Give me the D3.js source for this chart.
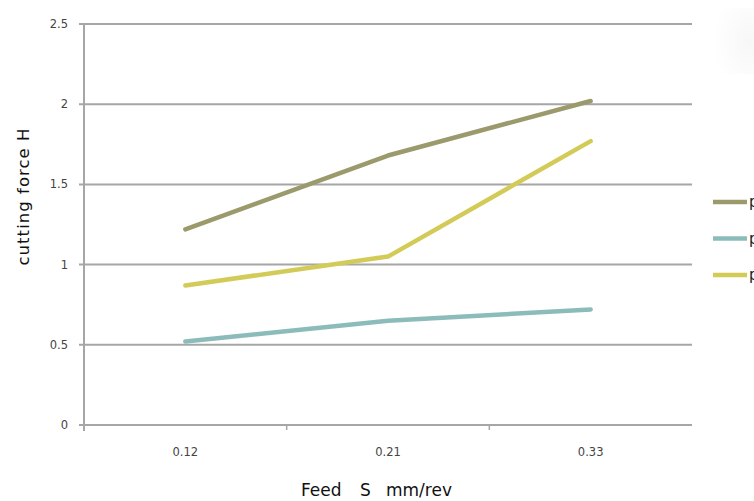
<!DOCTYPE html>
<html><head><meta charset="utf-8">
<script src="https://cdn.jsdelivr.net/npm/d3@7"></script>
<style>body{margin:0;background:#fff}svg{display:block}</style>
</head><body>
<script>
const categories = ["0.12", "0.21", "0.33"];
const seriesNames = ["p1", "p2", "p3"];
const series1 = [1.22, 1.68, 2.02];
const series2 = [0.52, 0.65, 0.72];
const series3 = [0.87, 1.05, 1.77];
const yTicks = [0, 0.5, 1, 1.5, 2, 2.5];
const colors = ["#9b9a6c", "#8cbcb9", "#d3cb58"];

const W = 754, H = 501;
const svg = d3.select("body").append("svg").attr("width", W).attr("height", H);
const pLeft = 84, pRight = 692, pTop = 24, pBottom = 425;

const x = d3.scaleBand().domain(categories).range([pLeft, pRight]);
const y = d3.scaleLinear().domain([0, 2.5]).range([pBottom, pTop]);

// faint shadow at top right
const defs = svg.append("defs");
const gr = defs.append("radialGradient").attr("id", "sh").attr("cx", 0.9).attr("cy", 0.5).attr("r", 0.8);
gr.append("stop").attr("offset", 0).attr("stop-color", "#f7f7f7");
gr.append("stop").attr("offset", 1).attr("stop-color", "#ffffff");
svg.append("rect").attr("x", 708).attr("y", 8).attr("width", 46).attr("height", 66).attr("fill", "url(#sh)");

// gridlines
svg.append("g").selectAll("line").data(yTicks).join("line")
  .attr("x1", pLeft - 5).attr("x2", pRight)
  .attr("y1", d => y(d)).attr("y2", d => y(d))
  .attr("stroke", "#a6a6a6").attr("stroke-width", 2);

// y axis line
svg.append("line").attr("x1", pLeft).attr("x2", pLeft).attr("y1", pTop).attr("y2", pBottom + 6)
  .attr("stroke", "#a6a6a6").attr("stroke-width", 2);

// x tick marks between categories
svg.append("g").selectAll("line").data(categories.slice(1)).join("line")
  .attr("x1", d => x(d)).attr("x2", d => x(d))
  .attr("y1", pBottom).attr("y2", pBottom + 5)
  .attr("stroke", "#a6a6a6").attr("stroke-width", 1.5);

// y tick labels
svg.append("g").selectAll("text").data(yTicks).join("text")
  .attr("x", pLeft - 16).attr("y", d => y(d)).attr("dy", "0.35em")
  .attr("text-anchor", "end").attr("font-family", "DejaVu Sans, sans-serif")
  .attr("font-size", 11.5).attr("fill", "#444").text(d => d);

// x tick labels
svg.append("g").selectAll("text").data(categories).join("text")
  .attr("x", d => x(d) + x.bandwidth() / 2).attr("y", 452).attr("dy", "0.35em")
  .attr("text-anchor", "middle").attr("font-family", "DejaVu Sans, sans-serif")
  .attr("font-size", 11.5).attr("fill", "#444").text(d => d);

// axis titles
const xt = svg.append("text").attr("y", 496)
  .attr("font-family", "DejaVu Sans, sans-serif").attr("font-size", 17).attr("fill", "#111");
xt.append("tspan").attr("x", 301).text("Feed");
xt.append("tspan").attr("x", 360).text("S");
xt.append("tspan").attr("x", 386).text("mm/rev");

svg.append("text").attr("transform", "translate(29,197) rotate(-90)").attr("text-anchor", "middle")
  .attr("font-family", "DejaVu Sans, sans-serif").attr("font-size", 16.5).attr("fill", "#111")
  .attr("textLength", 137).attr("lengthAdjust", "spacing")
  .text("cutting force H");

// lines
const all = [series1, series2, series3];
const line = d3.line().x((d, i) => x(categories[i]) + x.bandwidth() / 2).y(d => y(d));
svg.append("g").selectAll("path").data(all).join("path")
  .attr("d", d => line(d)).attr("fill", "none")
  .attr("stroke", (d, i) => colors[i]).attr("stroke-width", 4.5)
  .attr("stroke-linecap", "round").attr("stroke-linejoin", "round");

// legend
const lg = svg.append("g").selectAll("g").data(seriesNames).join("g")
  .attr("transform", (d, i) => `translate(713,${202 + i * 36.5})`);
lg.append("line").attr("x1", 0).attr("x2", 34).attr("y1", 0).attr("y2", 0)
  .attr("stroke", (d, i) => colors[i]).attr("stroke-width", 4.5);
lg.append("text").attr("x", 36).attr("y", 0).attr("dy", "0.35em")
  .attr("font-family", "DejaVu Sans, sans-serif").attr("font-size", 15).attr("fill", "#222")
  .text(d => d);
</script>
</body></html>
